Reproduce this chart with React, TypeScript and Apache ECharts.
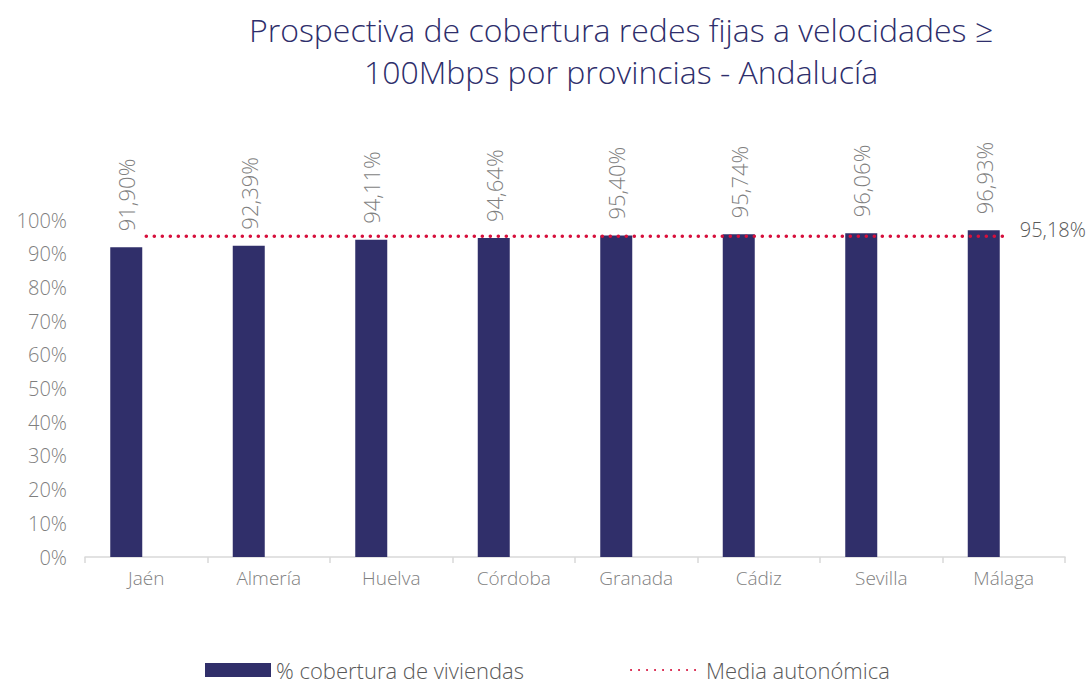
import React, { useEffect, useRef } from "react";
import * as echarts from "echarts";

const categories = ["Jaén", "Almería", "Huelva", "Córdoba", "Granada", "Cádiz", "Sevilla", "Málaga"];
const coverage = [91.9, 92.39, 94.11, 94.64, 95.4, 95.74, 96.06, 96.93];
const regionalAverage = [95.18, 95.18, 95.18, 95.18, 95.18, 95.18, 95.18, 95.18];
const titleLines = ["Prospectiva de cobertura redes fijas a velocidades ≥", "100Mbps por provincias - Andalucía"];

const FONT = "'Open Sans', Lato, sans-serif";
const fmt = (v: number) => v.toFixed(2).replace(".", ",") + "%";

export default function App() {
  const ref = useRef<HTMLDivElement>(null);
  useEffect(() => {
    document.body.style.margin = "0";
    const chart = echarts.init(ref.current!, null, { renderer: "svg" });
    const legendText = { fontSize: 22, color: "#595959", fontFamily: FONT, fontWeight: 300, lineHeight: 22 };
    chart.setOption({
      animation: false,
      textStyle: { fontFamily: FONT },
      grid: { left: 85, right: 26, top: 220, bottom: 127 },
      graphic: titleLines.map((t, i) => ({
        type: "text",
        x: 621,
        y: 29 + i * 42,
        style: {
          text: t,
          align: "center",
          verticalAlign: "middle",
          fill: "#2e2e6b",
          fontFamily: FONT,
          fontSize: 32,
          fontWeight: 300,
        },
      })),
      legend: [
        {
          left: 205,
          top: 659,
          padding: 0,
          itemWidth: 66,
          itemHeight: 14,
          itemTextGap: 8,
          textStyle: legendText,
          data: [{ name: "% cobertura de viviendas", icon: "rect" }],
        },
        {
          left: 630,
          top: 659,
          padding: 0,
          itemWidth: 70,
          itemHeight: 14,
          itemTextGap: 6,
          textStyle: legendText,
          data: [{ name: "Media autonómica", itemStyle: { opacity: 0 } }],
        },
      ],
      xAxis: {
        type: "category",
        data: categories,
        axisLine: { lineStyle: { color: "#d9d9d9", width: 1.5 } },
        axisTick: { show: true, length: 6, lineStyle: { color: "#d9d9d9", width: 1.5 } },
        axisLabel: { color: "#7f7f7f", fontSize: 19, margin: 11, fontWeight: 300 },
      },
      yAxis: {
        type: "value",
        min: 0,
        max: 100,
        interval: 10,
        axisLine: { show: false },
        axisTick: { show: false },
        splitLine: { show: false },
        axisLabel: { color: "#7f7f7f", fontSize: 20, formatter: "{value}%", margin: 18, fontWeight: 300 },
      },
      series: [
        {
          name: "% cobertura de viviendas",
          type: "bar",
          data: coverage,
          barWidth: 32,
          barGap: "25%",
          itemStyle: { color: "#302f6a" },
          label: {
            show: true,
            position: "top",
            rotate: 90,
            align: "left",
            verticalAlign: "middle",
            distance: 16,
            color: "#7f7f7f",
            fontSize: 22,
            fontWeight: 300,
            formatter: (p: any) => fmt(p.value),
          },
        },
        {
          name: "spacer",
          type: "bar",
          data: categories.map(() => "-"),
          barWidth: 32,
          itemStyle: { color: "transparent" },
        },
        {
          name: "Media autonómica",
          type: "line",
          data: regionalAverage,
          symbol: "none",
          lineStyle: { color: "#d6103c", width: 3.5, type: [0.1, 7.9], cap: "round" },
          itemStyle: { color: "#d6103c" },
          endLabel: {
            show: true,
            distance: 16,
            offset: [0, -7],
            color: "#595959",
            fontSize: 20,
            fontWeight: 300,
            formatter: (p: any) => fmt(p.value),
          },
          z: 5,
        },
      ],
    });
    return () => chart.dispose();
  }, []);
  return <div ref={ref} style={{ width: 1091, height: 684 }} />;
}
